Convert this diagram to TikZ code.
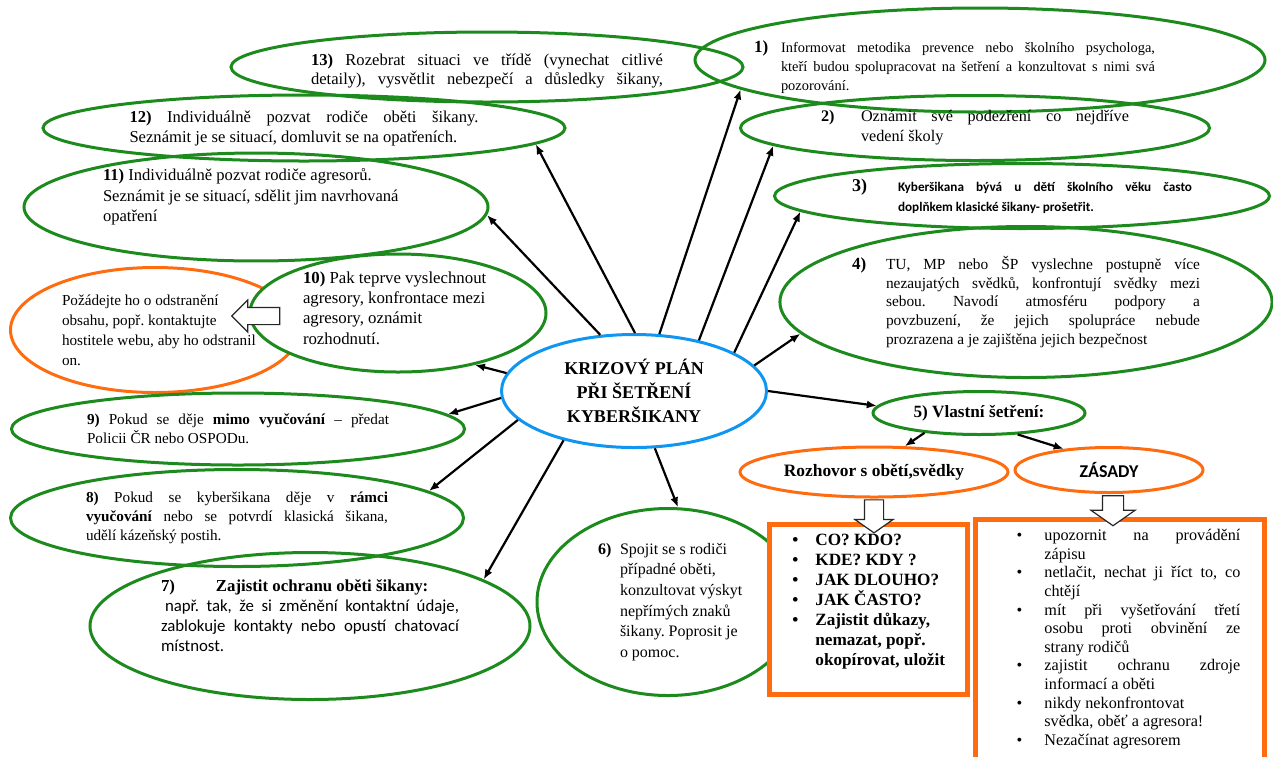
\documentclass[tikz,border=0pt]{standalone}
\usepackage{fontspec}
\setmainfont{Liberation Serif}
\newfontfamily\calfont{Carlito}
\usetikzlibrary{shapes.geometric,shapes.arrows,arrows.meta}
\frenchspacing

\definecolor{leafgreen}{RGB}{28,138,28}
\definecolor{alertorange}{RGB}{255,108,16}
\definecolor{planblue}{RGB}{16,150,240}

% justified line, hanging number, bullet
\newcommand{\jline}[1]{\makebox[\dimexpr\hsize-\leftskip-\rightskip\relax][s]{#1}}
\newcommand{\numhang}[2]{\leftskip=#1\relax\leavevmode\llap{\makebox[#1][l]{\textbf{#2}}}\ignorespaces}
\newcommand{\bul}[1][8.5pt]{\par\leavevmode\llap{\textbullet\hspace{#1}}\ignorespaces}

\begin{document}
\begin{tikzpicture}[x=0.5pt, y=-0.5pt,
        every node/.style={font=\fontsize{7.6}{9.6}\selectfont},
        leaf/.style={ellipse, draw=leafgreen, line width=1.5pt, inner sep=0pt},
        hint/.style={ellipse, draw=alertorange, line width=1.5pt, inner sep=0pt},
        listbox/.style={rectangle, draw=alertorange, line width=2.4pt, fill=white, inner sep=0pt, anchor=north west},
        hollow/.style={single arrow, draw=black!85, line width=0.6pt, fill=white},
        link/.style={-{Latex[length=5pt,width=4pt]}, line width=1.1pt}
    ]
    \useasboundingbox (0,0) rectangle (1273,756);

    \node[leaf, minimum width=256pt, minimum height=35pt,
          font=\fontsize{8.3}{9.8}\selectfont] (n13) at (487,67)
        {\parbox{176pt}{\vspace*{4pt}\jline{\textbf{13)} Rozebrat situaci ve třídě (vynechat citlivé}\\
         \jline{detaily), vysvětlit nebezpečí a důsledky šikany,}}};
    \node[leaf, minimum width=285pt, minimum height=52pt,
          font=\fontsize{7.2}{9.4}\selectfont] (n1) at (980,60)
        {\hspace*{-25.5pt}\parbox{200.5pt}{\vspace*{7pt}\numhang{13.5pt}{\fontsize{8.5}{9}\selectfont 1)}\jline{Informovat metodika prevence nebo školního psychologa,}\\
         \jline{kteří budou spolupracovat na šetření a konzultovat s nimi svá}\\
         pozorování.}};
    \node[leaf, minimum width=234.5pt, minimum height=32.5pt,
          font=\fontsize{8.1}{10}\selectfont] (n2) at (975,128)
        {\parbox{154pt}{\numhang{20pt}{2)}\jline{Oznámit své podezření co nejdříve}\\ vedení školy}};
    \node[leaf, minimum width=261pt, minimum height=33pt,
          font=\fontsize{8.3}{10}\selectfont] (n12) at (304,128)
        {\parbox{174.5pt}{\jline{\textbf{12)} Individuálně pozvat rodiče oběti šikany.}\\
         Seznámit je se situací, domluvit se na opatřeních.}};
    \node[leaf, minimum width=232pt, minimum height=51pt,
          font=\fontsize{8.3}{10.2}\selectfont] (n11) at (256,207)
        {\parbox{153pt}{\textbf{11)} Individuálně pozvat rodiče agresorů.\\
         Seznámit je se situací, sdělit jim navrhovaná\\ opatření\par\vspace*{10pt}}};
    \node[leaf, minimum width=247.5pt, minimum height=32.5pt,
          font=\calfont\bfseries\fontsize{6.6}{10}\selectfont] (n3) at (1022,196)
        {\parbox{170pt}{\numhang{23pt}{\rmfamily\fontsize{9}{9}\selectfont 3)}\jline{Kyberšikana bývá u dětí školního věku často}\\
         doplňkem klasické šikany- prošetřit.}};
    \node[leaf, minimum width=244pt, minimum height=75.5pt,
          font=\fontsize{7.7}{9.4}\selectfont] (n4) at (1026,302)
        {\parbox{174pt}{\numhang{17pt}{\fontsize{8.5}{9}\selectfont 4)}\jline{TU, MP nebo ŠP vyslechne postupně více}\\
         \jline{nezaujatých svědků, konfrontují svědky mezi}\\
         \jline{sebou. Navodí atmosféru podpory a}\\
         \jline{povzbuzení, že jejich spolupráce nebude}\\
         prozrazena a je zajištěna jejich bezpečnost}};

    \node[hint, minimum width=144.5pt, minimum height=62.5pt,
          font=\fontsize{7.6}{10}\selectfont] (req) at (155,330)
        {\hspace*{3.5pt}\parbox{100pt}{Požádejte ho o odstranění\\ obsahu, popř. kontaktujte\\ hostitele webu, aby ho odstranil\\ on.}\hspace*{-3.5pt}};
    \node[leaf, fill=white, minimum width=148pt, minimum height=59pt,
          font=\fontsize{8.4}{10.2}\selectfont] (n10) at (398,313)
        {\parbox{95pt}{\textbf{10)} Pak teprve vyslechnout\\ agresory, konfrontace mezi\\ agresory, oznámit\\ rozhodnutí.\par\vspace*{5pt}}};

    \node[leaf, minimum width=226.5pt, minimum height=36pt] (n9) at (238,429)
        {\parbox{151pt}{\jline{\textbf{9)} Pokud se děje \textbf{mimo vyučování} – předat}\\ Policii ČR nebo OSPODu.}};
    \node[leaf, minimum width=226.5pt, minimum height=48.5pt] (n8) at (237,518)
        {\parbox{151pt}{\jline{\textbf{8)} Pokud se kyberšikana děje v \textbf{rámci}}\\
         \jline{\textbf{vyučování} nebo se potvrdí klasická šikana,}\\
         udělí kázeňský postih.}};
    \node[leaf, minimum width=220pt, minimum height=73.5pt,
          font=\calfont\fontsize{8.4}{10}\selectfont] (n7) at (310,626)
        {\parbox{149pt}{{\rmfamily\bfseries\fontsize{8.4}{10}\selectfont\makebox[27.5pt][l]{7)}Zajistit ochranu oběti šikany:}\\
         \jline{\hspace{2pt}např. tak, že si změnění kontaktní údaje,}\\
         \jline{zablokuje kontakty nebo opustí chatovací}\\
         místnost.\par\vspace*{10pt}}};
    \node[leaf, minimum width=131pt, minimum height=93.5pt,
          font=\fontsize{8}{10.3}\selectfont] (n6) at (668,602)
        {\hspace*{4pt}\parbox{78pt}{\numhang{11pt}{6)}Spojit se s rodiči\\ případné oběti,\\ konzultovat výskyt\\ nepřímých znaků\\ šikany. Poprosit je\\ o pomoc.}\hspace*{-4pt}};

    \node[leaf, minimum width=106pt, minimum height=21.5pt,
          font=\bfseries\fontsize{8.6}{10}\selectfont] (n5) at (979,413) {5) Vlastní šetření:};
    \node[hint, minimum width=134pt, minimum height=25pt,
          font=\bfseries\fontsize{8.7}{10}\selectfont] (talk) at (874,472) {Rozhovor s obětí,svědky};
    \node[hint, minimum width=94pt, minimum height=22.5pt,
          font=\calfont\bfseries\fontsize{9}{10}\selectfont] (rules) at (1109,470) {ZÁSADY};

    \node[ellipse, draw=planblue, line width=1.5pt, fill=white, inner sep=0pt, align=center,
          minimum width=132.5pt, minimum height=56.5pt,
          font=\bfseries\fontsize{9}{12}\selectfont] (plan) at (634,391)
        {KRIZOVÝ PLÁN\\ PŘI ŠETŘENÍ\\ KYBERŠIKANY};

    \node[listbox, font=\bfseries\fontsize{8.6}{10}\selectfont] (asks) at (767,522)
        {\parbox[t][85pt][t]{99pt}{\vspace*{5pt}\leftskip=23pt
         \bul CO? KDO?
         \bul KDE? KDY ?
         \bul JAK DLOUHO?
         \bul JAK ČASTO?
         \bul Zajistit důkazy,\\ nemazat, popř.\\ okopírovat, uložit}};
    \node[listbox, font=\fontsize{8.1}{9.3}\selectfont] (tips) at (973,517)
        {\parbox[t][125pt][t]{144.5pt}{\vspace*{5pt}\leftskip=34.5pt\rightskip=12pt
         \bul[11pt] \jline{upozornit na provádění}\\ zápisu
         \bul[11pt] \jline{netlačit, nechat ji říct to, co}\\ chtějí
         \bul[11pt] \jline{mít při vyšetřování třetí}\\ \jline{osobu proti obvinění ze}\\ strany rodičů
         \bul[11pt] \jline{zajistit ochranu zdroje}\\ informací a oběti
         \bul[11pt] nikdy nekonfrontovat\\ svědka, oběť a agresora!
         \bul[11pt] Nezačínat agresorem}};

    \node[hollow, inner sep=4pt, minimum height=24pt, single arrow head extend=3.75pt,
          shape border rotate=180] (toreq) at (260,316) {};
    \node[hollow, inner sep=4.5pt, minimum height=16.5pt, single arrow head extend=4.75pt,
          single arrow tip angle=110, shape border rotate=270] (toasks) at (874,513) {};
    \node[hollow, inner sep=5pt, minimum height=15pt, single arrow head extend=5.75pt,
          single arrow tip angle=110, shape border rotate=270] (totips) at (1113,507) {};

    \draw[link] (plan.121) -- (n11.-2);
    \draw[link] (plan.89) -- (n12.-4);
    \draw[link] (plan.66) -- (n1.187);
    \draw[link] (plan.38) -- (n2.185);
    \draw[link] (plan.21) -- (n3.184);
    \draw[link] (plan.12) -- (n4.188);
    \draw[link] (plan.0) -- (n5.176);
    \draw[link] (plan.290) -- (n6.84);
    \draw[link] (plan.215) -- (n7.15);
    \draw[link] (plan.194) -- (n8.8);
    \draw[link] (plan.183) -- (n9.4);
    \draw[link] (plan.172) -- (n10.-34);
    \draw[link] (n5.200) -- (talk.40);
    \draw[link] (n5.-29) -- (rules.155);

\end{tikzpicture}
\end{document}
